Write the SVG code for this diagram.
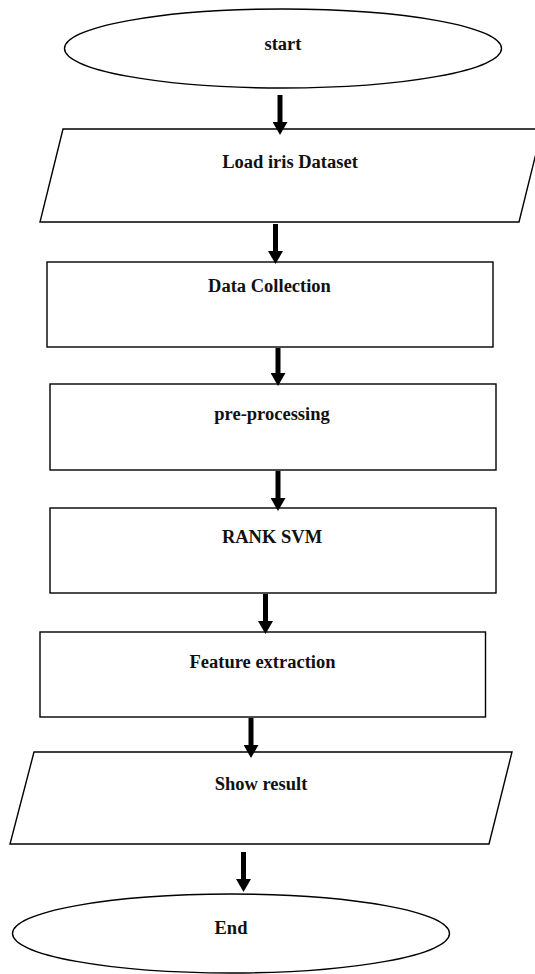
<svg xmlns="http://www.w3.org/2000/svg" width="535" height="974" viewBox="0 0 535 974">
  <style>
    .shape { fill: #ffffff; stroke: #000000; stroke-width: 1.4; }
    .label { font-family: "Liberation Serif", "Times New Roman", serif; font-weight: bold; font-size: 18.5px; fill: #111111; text-anchor: middle; }
    .flow { stroke: #000000; stroke-width: 5; fill: none; marker-end: url(#head); }
  </style>
  <defs>
    <marker id="head" markerUnits="userSpaceOnUse" markerWidth="13" markerHeight="15" viewBox="0 -7.5 13 15" refX="3" refY="0" orient="auto">
      <path d="M0,-7.5 L13,0 L0,7.5 Z" fill="#000000"/>
    </marker>
  </defs>
  <rect width="535" height="974" fill="#ffffff"/>

  <g id="start">
    <ellipse class="shape" cx="283" cy="48.5" rx="218.5" ry="39.5"/>
    <text class="label" x="283" y="50">start</text>
  </g>

  <g id="load-dataset">
    <polygon class="shape" points="63,129 542,129 519,222 40,222"/>
    <text class="label" x="290" y="168">Load iris Dataset</text>
  </g>

  <g id="data-collection">
    <rect class="shape" x="47" y="262" width="446" height="85"/>
    <text class="label" x="269.5" y="292">Data Collection</text>
  </g>

  <g id="pre-processing">
    <rect class="shape" x="50" y="384" width="446" height="86"/>
    <text class="label" x="272" y="420">pre-processing</text>
  </g>

  <g id="rank-svm">
    <rect class="shape" x="50" y="508" width="446" height="85"/>
    <text class="label" x="272" y="543">RANK SVM</text>
  </g>

  <g id="feature-extraction">
    <rect class="shape" x="40" y="632" width="445.5" height="85"/>
    <text class="label" x="262.5" y="668">Feature extraction</text>
  </g>

  <g id="show-result">
    <polygon class="shape" points="34,752 512,752 489,844 10,844"/>
    <text class="label" x="261" y="790">Show result</text>
  </g>

  <g id="end">
    <ellipse class="shape" cx="231" cy="933.5" rx="218.5" ry="39.5"/>
    <text class="label" x="231" y="934">End</text>
  </g>

  <g id="connectors">
    <line class="flow" x1="280" y1="95" x2="280" y2="125"/>
    <line class="flow" x1="275.5" y1="224" x2="275.5" y2="254"/>
    <line class="flow" x1="278" y1="348" x2="278" y2="376"/>
    <line class="flow" x1="278" y1="471" x2="278" y2="501"/>
    <line class="flow" x1="265.5" y1="594" x2="265.5" y2="624"/>
    <line class="flow" x1="251" y1="718" x2="251" y2="748"/>
    <line class="flow" x1="243.5" y1="852" x2="243.5" y2="882"/>
  </g>
</svg>
